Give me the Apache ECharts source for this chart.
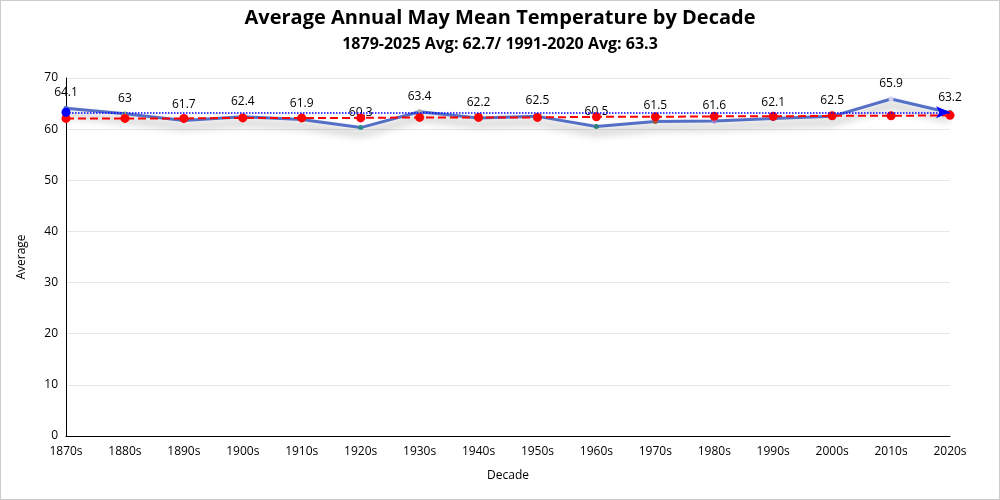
<!DOCTYPE html>
<html><head><meta charset="utf-8">
<script src="https://cdn.jsdelivr.net/npm/echarts@6/dist/echarts.min.js"></script>
<style>html,body{margin:0;padding:0;background:#fff}#c{width:998px;height:498px;border:1px solid #ccc}</style>
</head><body><div id="c"></div>
<script>
const decades = ['1870s','1880s','1890s','1900s','1910s','1920s','1930s','1940s','1950s','1960s','1970s','1980s','1990s','2000s','2010s','2020s'];
const averages = [64.1,63,61.7,62.4,61.9,60.3,63.4,62.2,62.5,60.5,61.5,61.6,62.1,62.5,65.9,63.2];
const trendValues = [62.1,62.1,62.1,62.2,62.2,62.2,62.3,62.3,62.3,62.4,62.4,62.5,62.5,62.6,62.6,62.7];
const normal19912020 = 63.3;
const pointColors = ['#5470c6','#91cc75','#ee6666','#fac858','#fc8452','#2a8a88','#aaaaaa','#5470c6','#5470c6','#2a7f7a','#9a5a30','#9a80d0','#3050d0','#5470c6','#d0d0ee','#333333'];
const FONT = '"Open Sans", "Noto Sans", sans-serif';
const chart = echarts.init(document.getElementById('c'));
chart.setOption({
  animation:false,
  textStyle:{fontFamily:FONT},
  title:{text:'Average Annual May Mean Temperature by Decade',subtext:'1879-2025 Avg: 62.7/ 1991-2020 Avg: 63.3',left:'center',top:2,itemGap:8,
    textStyle:{fontSize:20,fontWeight:'bold',color:'#000',fontFamily:FONT},
    subtextStyle:{fontSize:16,fontWeight:'bold',color:'#000',fontFamily:FONT}},
  grid:{left:65,right:49,top:77,bottom:63},
  xAxis:{type:'category',data:decades,boundaryGap:false,name:'Decade',nameLocation:'middle',nameGap:34,
    nameTextStyle:{color:'#000',fontSize:12},
    axisLine:{lineStyle:{color:'#000'}},axisTick:{show:false},axisLabel:{color:'#000',fontSize:12,margin:10}},
  yAxis:{type:'value',min:0,max:70,interval:10,name:'Average',nameLocation:'middle',nameGap:38,
    nameTextStyle:{color:'#000',fontSize:12},
    axisLine:{show:true,lineStyle:{color:'#000'}},axisTick:{show:false},axisLabel:{color:'#000',fontSize:12},
    splitLine:{lineStyle:{color:'#e6e6e6'}}},
  series:[
    {name:'Average',type:'line',data:averages.map((v,i)=>({value:v,itemStyle:{color:pointColors[i]}})),
      symbol:'circle',symbolSize:5,
      lineStyle:{color:'#5470c6',width:3,shadowColor:'rgba(0,0,0,0.4)',shadowBlur:8,shadowOffsetY:6},
      label:{show:true,position:'top',color:'#000',fontSize:12,distance:7},
      markLine:{silent:true,symbol:['circle','arrow'],symbolSize:[9,14],
        label:{show:false},
        lineStyle:{color:'#0000ff',type:'dotted',width:1.5,opacity:1},
        itemStyle:{color:'#0000ff'},
        data:[[{coord:[decades[0],normal19912020]},{coord:[decades[decades.length-1],normal19912020]}]]},
      z:3},
    {name:'Trend',type:'line',data:trendValues,symbol:'circle',symbolSize:9,
      itemStyle:{color:'#ff0000'},lineStyle:{color:'#ff0000',type:'dashed',width:2},z:4}
  ]
});
</script></body></html>
